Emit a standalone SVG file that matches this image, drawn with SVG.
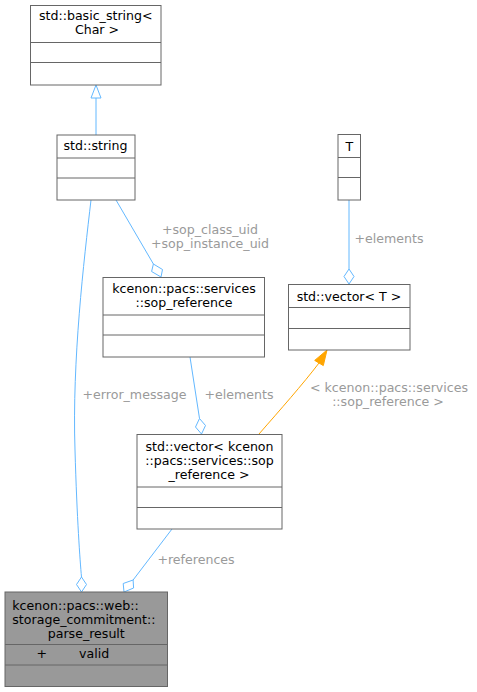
<svg xmlns="http://www.w3.org/2000/svg" width="477" height="692" viewBox="0 0 477 692">
<style>
.box{fill:#ffffff;stroke:#666666;stroke-width:1}
.grey{fill:#999999;stroke:#666666;stroke-width:1}
.sep{stroke:#666666;stroke-width:1}
.t{font-family:"DejaVu Sans",sans-serif;font-size:12.6px;fill:#000000}
.c{text-anchor:middle}
.lbl{font-family:"DejaVu Sans",sans-serif;font-size:12.6px;fill:#9a9a9a;text-anchor:middle}
.e{fill:none;stroke:#63b8ff;stroke-width:1}
.o{fill:none;stroke:#ffa500;stroke-width:1}
.dia{fill:#ffffff;stroke:#63b8ff;stroke-width:1}
</style>
<rect width="477" height="692" fill="#ffffff"/>
<g id="edges">
  <path class="e" d="M96,135 L96,98"/>
  <polygon points="96,85 101,98 91,98" fill="#ffffff" stroke="#63b8ff"/>
  <path class="e" d="M349,200 L349,269"/>
  <polygon class="dia" points="349,284 344,276.5 349,269 354,276.5"/>
  <text class="lbl" x="389" y="242.5">+elements</text>
  <path class="e" d="M116,200 L153.4,264"/>
  <polygon class="dia" points="161,277 151.6,271.5 153.4,264 162.5,269.5"/>
  <text class="lbl" x="210" y="233.5">+sop_class_uid</text>
  <text class="lbl" x="210" y="247.5">+sop_instance_uid</text>
  <path class="e" d="M91,200 C84,260 72,360 75,450 C77,520 80,560 81.5,577"/>
  <polygon class="dia" points="81.5,592 76.5,584.5 81.5,577 86.5,584.5"/>
  <text class="lbl" x="134.5" y="399">+error_message</text>
  <path class="e" d="M190,357 L199.5,418.5"/>
  <polygon class="dia" points="201.5,434 195.5,427 199.5,418.5 205.5,425.5"/>
  <text class="lbl" x="239" y="399">+elements</text>
  <path class="o" d="M259,434 C280,410 303,384 319,363"/>
  <polygon points="327,350 323.3,365.6 314.7,360.4" fill="#ffa500" stroke="#ffa500"/>
  <text class="lbl" x="389" y="391.5">&lt; kcenon::pacs::services</text>
  <text class="lbl" x="388" y="405.5">::sop_reference &gt;</text>
  <path class="e" d="M172,529 L133.1,580"/>
  <polygon class="dia" points="124,592 123.2,583.5 133.1,580 133.6,588"/>
  <text class="lbl" x="196" y="564">+references</text>
</g>
<g id="node_basic_string">
  <rect class="box" x="30.5" y="5.5" width="130.5" height="79.5"/>
  <line class="sep" x1="30.5" y1="42.5" x2="161" y2="42.5"/>
  <line class="sep" x1="30.5" y1="62.5" x2="161" y2="62.5"/>
  <text class="t c" x="95.75" y="20">std::basic_string&lt;</text>
  <text class="t c" x="97" y="34">Char &gt;</text>
</g>
<g id="node_string">
  <rect class="box" x="57" y="135" width="78" height="65"/>
  <line class="sep" x1="57" y1="158" x2="135" y2="158"/>
  <line class="sep" x1="57" y1="178" x2="135" y2="178"/>
  <text class="t c" x="95.5" y="149.5">std::string</text>
</g>
<g id="node_T">
  <rect class="box" x="338" y="134.5" width="22.5" height="65.5"/>
  <line class="sep" x1="338" y1="157.5" x2="360.5" y2="157.5"/>
  <line class="sep" x1="338" y1="177.5" x2="360.5" y2="177.5"/>
  <text class="t c" x="349.25" y="150.5">T</text>
</g>
<g id="node_vector_T">
  <rect class="box" x="288.5" y="284.5" width="121.5" height="65.5"/>
  <line class="sep" x1="288.5" y1="307.5" x2="410" y2="307.5"/>
  <line class="sep" x1="288.5" y1="328.5" x2="410" y2="328.5"/>
  <text class="t c" x="349" y="301">std::vector&lt; T &gt;</text>
</g>
<g id="node_sop_reference">
  <rect class="box" x="103" y="277.5" width="161.5" height="79.5"/>
  <line class="sep" x1="103" y1="315" x2="264.5" y2="315"/>
  <line class="sep" x1="103" y1="335" x2="264.5" y2="335"/>
  <text class="t c" x="184" y="293.3">kcenon::pacs::services</text>
  <text class="t c" x="184" y="307">::sop_reference</text>
</g>
<g id="node_vector_sop">
  <rect class="box" x="137" y="434.5" width="145" height="94.5"/>
  <line class="sep" x1="137" y1="487" x2="282" y2="487"/>
  <line class="sep" x1="137" y1="507.5" x2="282" y2="507.5"/>
  <text class="t c" x="209.5" y="450.5">std::vector&lt; kcenon</text>
  <text class="t c" x="209.5" y="465">::pacs::services::sop</text>
  <text class="t c" x="209" y="479">_reference &gt;</text>
</g>
<g id="node_parse_result">
  <rect class="grey" x="5" y="592" width="162.5" height="94.5"/>
  <line class="sep" x1="5" y1="644.5" x2="167.5" y2="644.5"/>
  <line class="sep" x1="5" y1="665" x2="167.5" y2="665"/>
  <text class="t" x="12.3" y="609.5">kcenon::pacs::web::</text>
  <text class="t" x="12.3" y="623.5">storage_commitment::</text>
  <text class="t c" x="86.25" y="637.5">parse_result</text>
  <text class="t" x="36.5" y="657.5">+</text>
  <text class="t" x="79" y="657.5">valid</text>
</g>
</svg>
